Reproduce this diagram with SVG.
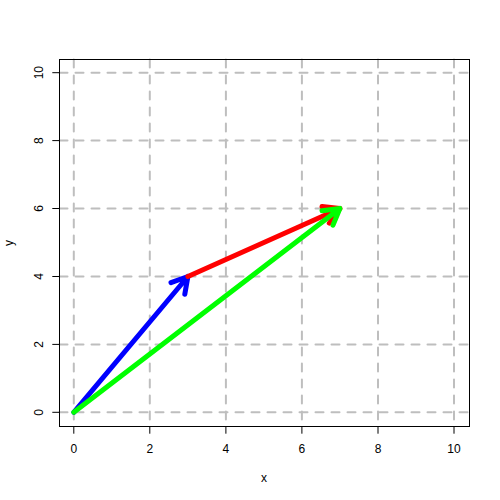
<svg xmlns="http://www.w3.org/2000/svg" width="500" height="500" viewBox="0 0 500 500">
<style>
.grid{stroke:#BEBEBE;stroke-width:2;stroke-dasharray:8 8;stroke-linecap:round;fill:none}
.ax{stroke:#000;stroke-width:1;fill:none}
.lbl{font-family:"Liberation Sans",Arial,sans-serif;font-size:12px;fill:#000;text-anchor:middle}
.arr{fill:none;stroke-width:5;stroke-linecap:round;stroke-linejoin:round}
</style>
<rect width="500" height="500" fill="#fff"/>
<g id="grid">
<path class="grid" d="M73.8 59.5V426.5M149.8 59.5V426.5M225.9 59.5V426.5M301.9 59.5V426.5M378 59.5V426.5M454 59.5V426.5"/>
<path class="grid" d="M59.5 412.3H469.5M59.5 344.4H469.5M59.5 276.5H469.5M59.5 208.5H469.5M59.5 140.6H469.5M59.5 72.7H469.5"/>
</g>
<g id="axes">
<rect class="ax" x="59.5" y="59.5" width="410" height="367"/>
<path class="ax" d="M73.8 426.5V433.7M149.8 426.5V433.7M225.9 426.5V433.7M301.9 426.5V433.7M378 426.5V433.7M454 426.5V433.7"/>
<path class="ax" d="M59.5 412.3H52.3M59.5 344.4H52.3M59.5 276.5H52.3M59.5 208.5H52.3M59.5 140.6H52.3M59.5 72.7H52.3"/>
<g class="lbl">
<text x="73.8" y="452.5">0</text>
<text x="149.8" y="452.5">2</text>
<text x="225.9" y="452.5">4</text>
<text x="301.9" y="452.5">6</text>
<text x="378" y="452.5">8</text>
<text x="454" y="452.5">10</text>
<text transform="translate(42.5 412.3) rotate(-90)">0</text>
<text transform="translate(42.5 344.4) rotate(-90)">2</text>
<text transform="translate(42.5 276.5) rotate(-90)">4</text>
<text transform="translate(42.5 208.5) rotate(-90)">6</text>
<text transform="translate(42.5 140.6) rotate(-90)">8</text>
<text transform="translate(42.5 72.7) rotate(-90)">10</text>
<text x="264" y="481.5">x</text>
<text transform="translate(12.5 243) rotate(-90)">y</text>
</g>
</g>
<g id="connectors">
<g id="blue"><path class="arr" stroke="#0000FF" d="M73.8 412.3L187.9 276.5M171 282.7L187.9 276.5L184.8 294.2"/></g>
<g id="red"><path class="arr" stroke="#FF0000" d="M187.9 276.5L339.9 208.5M322 206.6L339.9 208.5L329.3 223.1"/></g>
<g id="green"><path class="arr" stroke="#00FF00" d="M73.8 412.3L339.9 208.5M322 210.8L339.9 208.5L333 225.1"/></g>
</g>
</svg>
